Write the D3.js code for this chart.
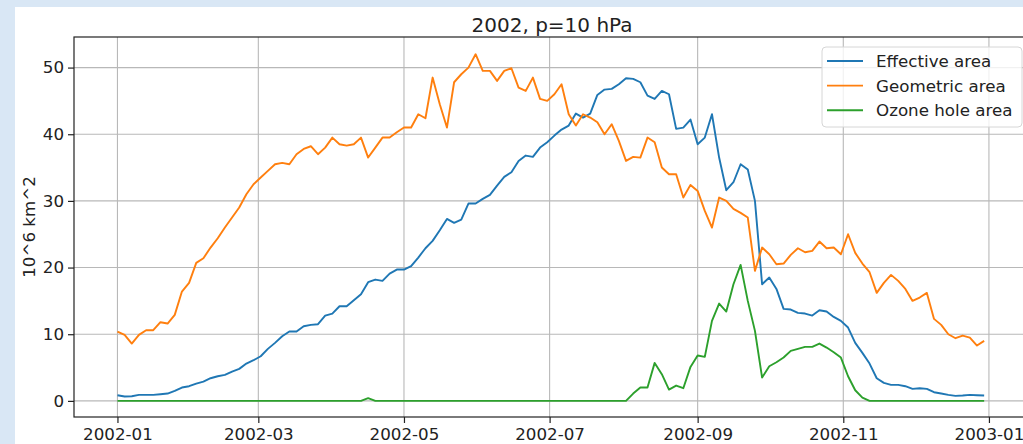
<!DOCTYPE html>
<html lang="en">
<head>
<meta charset="UTF-8" />
<script src="https://d3js.org/d3.v7.min.js"></script>
<title>Ozone hole area 2002</title>
<style>
    body {
        margin: 0;
        overflow: hidden;
        background: #d9e7f5;
    }

    svg text {
        font-family: "DejaVu Sans", sans-serif;
        fill: #222;
    }
</style>
</head>
<body>
<script>
    // one value every 3 days, starting 2002-01-01
    const startDate = "2002-01-01";
    const stepDays = 3;

    const effectiveArea = [
        0.85, 0.65, 0.7, 0.9, 0.9, 0.9, 1.0, 1.1, 1.5, 2.0,
        2.2, 2.6, 2.9, 3.4, 3.7, 3.9, 4.4, 4.8, 5.6, 6.1,
        6.7, 7.8, 8.7, 9.7, 10.4, 10.4, 11.2, 11.4, 11.5, 12.8,
        13.1, 14.2, 14.2, 15.1, 16, 17.8, 18.2, 18, 19.1, 19.7,
        19.7, 20.2, 21.5, 22.9, 24, 25.6, 27.3, 26.7, 27.2, 29.6,
        29.6, 30.3, 30.9, 32.3, 33.6, 34.3, 36, 36.8, 36.6, 38,
        38.8, 39.8, 40.7, 41.3, 43.1, 42.5, 43.1, 45.9, 46.7, 46.8,
        47.5, 48.4, 48.3, 47.8, 45.8, 45.3, 46.5, 46, 40.8, 41,
        42.2, 38.5, 39.5, 43, 36.5, 31.6, 32.8, 35.5, 34.7, 30,
        17.5, 18.5, 16.8, 13.8, 13.7, 13.2, 13.1, 12.8, 13.6, 13.4,
        12.6, 12, 11, 8.7, 7.2, 5.6, 3.4, 2.7, 2.4, 2.4,
        2.2, 1.8, 1.9, 1.8, 1.3, 1.1, 0.9, 0.75, 0.8, 0.9,
        0.85, 0.8
    ];

    const geometricArea = [
        10.4, 9.9, 8.6, 9.9, 10.6, 10.6, 11.8, 11.6, 12.9, 16.4,
        17.7, 20.7, 21.4, 23, 24.4, 26, 27.5, 29, 31, 32.5,
        33.5, 34.5, 35.5, 35.7, 35.5, 37, 37.8, 38.2, 37, 38,
        39.5, 38.5, 38.3, 38.5, 39.5, 36.5, 38, 39.5, 39.5, 40.3,
        41, 41, 43, 42.4, 48.5, 44.5, 41, 47.8, 49, 50,
        52, 49.5, 49.5, 48, 49.5, 49.9, 47, 46.5, 48.5, 45.3,
        45, 46, 47.5, 43, 41.3, 43, 42.5, 41.8, 40, 41.5,
        39, 36, 36.6, 36.5, 39.5, 38.8, 35, 34, 34, 30.5,
        32.4, 31.5, 28.5, 26, 30.5, 30, 28.8, 28.2, 27.5, 19.5,
        23, 22, 20.5, 20.6, 21.9, 22.9, 22.3, 22.5, 23.9, 22.9,
        23, 22, 25, 22.2, 20.6, 19.3, 16.2, 17.7, 18.9, 18,
        16.8, 15, 15.5, 16.2, 12.3, 11.4, 10, 9.4, 9.8, 9.5,
        8.3, 9.0
    ];

    const ozoneHoleArea = [
        0, 0, 0, 0, 0, 0, 0, 0, 0, 0,
        0, 0, 0, 0, 0, 0, 0, 0, 0, 0,
        0, 0, 0, 0, 0, 0, 0, 0, 0, 0,
        0, 0, 0, 0, 0, 0.4, 0, 0, 0, 0,
        0, 0, 0, 0, 0, 0, 0, 0, 0, 0,
        0, 0, 0, 0, 0, 0, 0, 0, 0, 0,
        0, 0, 0, 0, 0, 0, 0, 0, 0, 0,
        0, 0, 1.1, 2.0, 2.0, 5.7, 4.0, 1.7, 2.3, 1.9,
        5.1, 6.8, 6.6, 12, 14.6, 13.4, 17.5, 20.4, 15, 10.5,
        3.5, 5.2, 5.8, 6.5, 7.5, 7.8, 8.1, 8.1, 8.6, 8.0,
        7.3, 6.5, 3.7, 1.6, 0.5, 0, 0, 0, 0, 0,
        0, 0, 0, 0, 0, 0, 0, 0, 0, 0,
        0, 0
    ];

    const seriesNames = ["Effective area", "Geometric area", "Ozone hole area"];
    const seriesColors = ["#1f77b4", "#ff7f0e", "#2ca02c"];
    const yTicks = [0, 10, 20, 30, 40, 50];
    const titleText = "2002, p=10 hPa";
    const yLabelText = "10^6 km^2";

    const width = 1023;
    const height = 444;

    // the axes box runs a little past the right edge of the window (cropped figure)
    const plot = { left: 74, right: 1030, top: 37, bottom: 417 };

    const svg = d3.select("body")
        .append("svg")
        .attr("width", width)
        .attr("height", height);

    // figure background (white), the page behind it is light blue
    svg.append("rect")
        .attr("x", 15)
        .attr("y", 7)
        .attr("width", width - 15)
        .attr("height", height - 7)
        .attr("fill", "white");

    const start = d3.utcParse("%Y-%m-%d")(startDate);
    const dates = effectiveArea.map((d, i) => d3.utcDay.offset(start, i * stepDays));
    const end = d3.utcDay.offset(d3.utcYear.offset(start, 1), -1);

    // matplotlib style 5% padding
    const span = end - start;
    const x = d3.scaleUtc()
        .domain([new Date(+start - span * 0.05), new Date(+end + span * 0.05)])
        .range([plot.left, plot.right]);

    const yMax = d3.max(geometricArea);
    const yPad = (yMax - 0) * 0.0465;
    const y = d3.scaleLinear()
        .domain([0 - yPad, yMax + yPad * 1.07])
        .range([plot.bottom, plot.top]);

    const xTicks = d3.utcMonth.every(2).range(start, d3.utcDay.offset(end, 2));

    // grid
    const grid = svg.append("g");
    grid.selectAll("line.vx")
        .data(xTicks)
        .join("line")
        .attr("x1", d => x(d)).attr("x2", d => x(d))
        .attr("y1", plot.top).attr("y2", plot.bottom)
        .attr("stroke", "#b8b8b8").attr("stroke-width", 1.1);
    grid.selectAll("line.hy")
        .data(yTicks)
        .join("line")
        .attr("x1", plot.left).attr("x2", plot.right)
        .attr("y1", d => y(d)).attr("y2", d => y(d))
        .attr("stroke", "#b8b8b8").attr("stroke-width", 1.1);

    // lines
    const series = [effectiveArea, geometricArea, ozoneHoleArea];
    const line = d3.line()
        .x((d, i) => x(dates[i]))
        .y(d => y(d));

    svg.append("g")
        .selectAll("path")
        .data(series)
        .join("path")
        .attr("d", d => line(d))
        .attr("fill", "none")
        .attr("stroke", (d, i) => seriesColors[i])
        .attr("stroke-width", 1.9)
        .attr("stroke-linejoin", "round");

    // axes
    const xAxis = svg.append("g")
        .attr("transform", `translate(0,${plot.bottom})`)
        .call(d3.axisBottom(x).tickValues(xTicks).tickFormat(d3.utcFormat("%Y-%m")).tickSize(6).tickPadding(5));

    const yAxis = svg.append("g")
        .attr("transform", `translate(${plot.left},0)`)
        .call(d3.axisLeft(y).tickValues(yTicks).tickSize(6).tickPadding(4));

    [xAxis, yAxis].forEach(a => {
        a.select(".domain").remove();
        a.selectAll(".tick line").attr("stroke", "#222").attr("stroke-width", 1.2);
        a.selectAll(".tick text").attr("font-size", 16.7).attr("fill", "#222")
            .style("font-family", '"DejaVu Sans", sans-serif');
    });

    // spines
    svg.append("rect")
        .attr("x", plot.left)
        .attr("y", plot.top)
        .attr("width", plot.right - plot.left)
        .attr("height", plot.bottom - plot.top)
        .attr("fill", "none")
        .attr("stroke", "#222")
        .attr("stroke-width", 1.2);

    // title and y label
    svg.append("text")
        .text(titleText)
        .attr("x", (plot.left + plot.right) / 2)
        .attr("y", 31.5)
        .attr("text-anchor", "middle")
        .attr("font-size", 20);

    svg.append("text")
        .text(yLabelText)
        .attr("transform", `translate(35,${(plot.top + plot.bottom) / 2}) rotate(-90)`)
        .attr("text-anchor", "middle")
        .attr("font-size", 16.7);

    // legend
    const legend = svg.append("g").attr("transform", "translate(822,47)");
    legend.append("rect")
        .attr("width", 200)
        .attr("height", 80)
        .attr("rx", 4)
        .attr("fill", "white")
        .attr("fill-opacity", 0.8)
        .attr("stroke", "#d6d6d6");

    const rows = legend.selectAll("g.row")
        .data(seriesNames)
        .join("g")
        .attr("transform", (d, i) => `translate(0,${14 + i * 24.6})`);

    rows.append("line")
        .attr("x1", 5).attr("x2", 41)
        .attr("stroke", (d, i) => seriesColors[i])
        .attr("stroke-width", 1.9);

    rows.append("text")
        .text(d => d)
        .attr("x", 54)
        .attr("dy", "0.36em")
        .attr("font-size", 16.7);
</script>
</body>
</html>
